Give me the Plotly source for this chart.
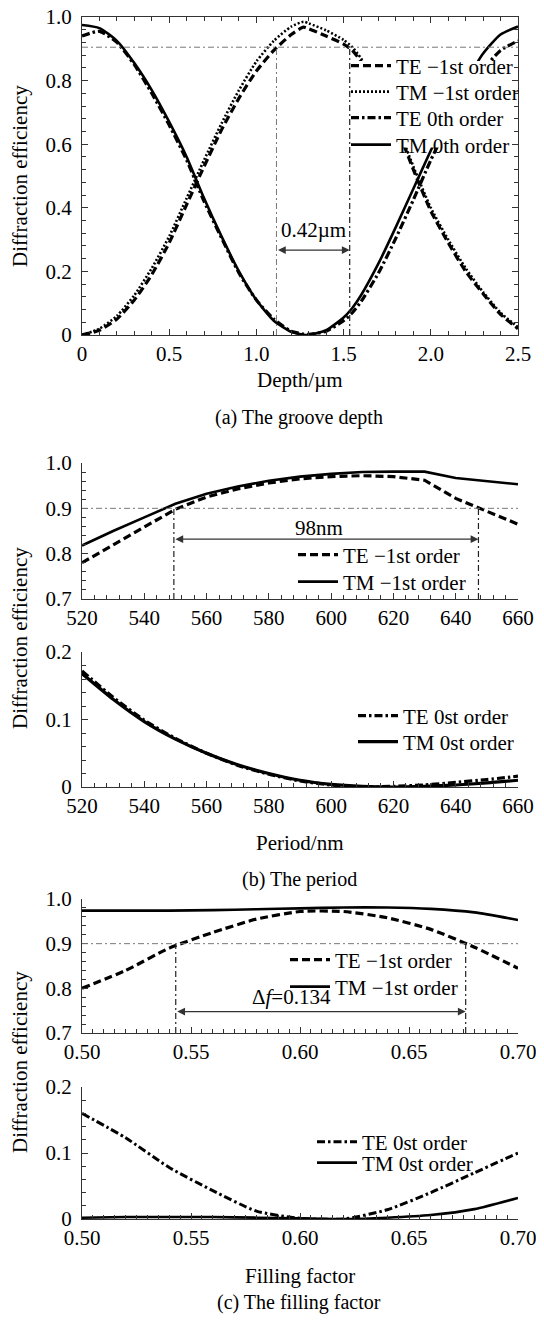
import plotly.graph_objects as go

# page is rendered with an 8px body margin on every side; the figure is sized so the page
# never needs to scroll and its content lands on the reference's pixel positions
OFF = 8
W, H = 544 - OFF, 1329 - 2 * OFF
FONT = "Liberation Serif, Times New Roman, Times, serif"
FS = 21

# ---------------- data: (a) groove depth ----------------
depth = [0, 0.1, 0.2, 0.3, 0.4, 0.5, 0.6, 0.7, 0.8, 0.9, 1.0, 1.1, 1.2, 1.27, 1.3,
         1.4, 1.5, 1.55, 1.6, 1.7, 1.8, 1.9, 2.0, 2.1, 2.2, 2.3, 2.4, 2.5]
te_m1_a = [0.0, 0.015, 0.05, 0.11, 0.19, 0.29, 0.41, 0.53, 0.645, 0.745, 0.83, 0.895, 0.945, 0.968,
           0.963, 0.94, 0.915, 0.895, 0.86, 0.77, 0.66, 0.52, 0.39, 0.29, 0.20, 0.13, 0.065, 0.02]
tm_m1_a = [0.0, 0.02, 0.06, 0.125, 0.21, 0.31, 0.43, 0.55, 0.665, 0.77, 0.86, 0.925, 0.97, 0.985,
           0.98, 0.958, 0.928, 0.905, 0.87, 0.78, 0.67, 0.53, 0.40, 0.30, 0.21, 0.135, 0.07, 0.025]
te_0_a = [0.94, 0.955, 0.92, 0.85, 0.76, 0.66, 0.55, 0.42, 0.305, 0.195, 0.11, 0.05, 0.012, 0.003,
          0.002, 0.012, 0.045, 0.07, 0.105, 0.195, 0.305, 0.425, 0.55, 0.66, 0.755, 0.835, 0.895, 0.925]
tm_0_a = [0.975, 0.965, 0.925, 0.855, 0.77, 0.67, 0.56, 0.43, 0.31, 0.20, 0.11, 0.045, 0.01, 0.001,
          0.0, 0.015, 0.055, 0.085, 0.125, 0.225, 0.34, 0.46, 0.58, 0.695, 0.795, 0.885, 0.945, 0.97]

# ---------------- data: (b) period ----------------
period = [520, 530, 540, 550, 560, 570, 580, 590, 600, 610, 620, 630, 640, 650, 660]
te_m1_b = [0.78, 0.82, 0.86, 0.898, 0.925, 0.943, 0.956, 0.965, 0.97, 0.972, 0.97, 0.962, 0.922, 0.893, 0.865]
tm_m1_b = [0.818, 0.85, 0.88, 0.91, 0.932, 0.948, 0.961, 0.97, 0.976, 0.98, 0.981, 0.981, 0.967, 0.96, 0.953]
te_0_b = [0.172, 0.133, 0.099, 0.072, 0.05, 0.032, 0.019, 0.009, 0.003, 0.0, 0.001, 0.003, 0.007, 0.011, 0.016]
tm_0_b = [0.168, 0.13, 0.097, 0.071, 0.05, 0.033, 0.02, 0.01, 0.004, 0.001, 0.0, 0.001, 0.003, 0.006, 0.01]

# ---------------- data: (c) filling factor ----------------
fill = [0.50, 0.52, 0.54, 0.56, 0.58, 0.60, 0.62, 0.64, 0.66, 0.68, 0.70]
te_m1_c = [0.80, 0.84, 0.89, 0.925, 0.955, 0.972, 0.972, 0.958, 0.932, 0.892, 0.845]
tm_m1_c = [0.974, 0.974, 0.974, 0.975, 0.977, 0.979, 0.981, 0.981, 0.978, 0.97, 0.953]
te_0_c = [0.16, 0.123, 0.078, 0.043, 0.012, 0.001, 0.0, 0.014, 0.04, 0.07, 0.10]
tm_0_c = [0.002, 0.003, 0.003, 0.003, 0.002, 0.001, 0.0, 0.002, 0.006, 0.015, 0.032]

# ---------------- guides / labels ----------------
a_level, a_left, a_right, a_arrow_y = 0.905, 1.115, 1.535, 0.267
a_label, a_label_pos = "0.42µm", (1.33, 0.33)
b_level, b_left, b_right, b_arrow_y = 0.9, 549.5, 647.3, 0.832
b_label, b_label_pos = "98nm", (596, 0.857)
c_level, c_left, c_right, c_arrow_y = 0.9, 0.543, 0.676, 0.748
c_label, c_label_pos = "Δ<i>f</i>=0.134", (0.596, 0.781)

a_xticks = [0, 0.5, 1.0, 1.5, 2.0, 2.5]
a_xtext = ["0", "0.5", "1.0", "1.5", "2.0", "2.5"]
a_yticks = [0, 0.2, 0.4, 0.6, 0.8, 1.0]
a_ytext = ["0", "0.2", "0.4", "0.6", "0.8", "1.0"]
p_ticks = [520, 540, 560, 580, 600, 620, 640, 660]
f_ticks = [0.50, 0.55, 0.60, 0.65, 0.70]
f_text = ["0.50", "0.55", "0.60", "0.65", "0.70"]
top_yticks = [0.7, 0.8, 0.9, 1.0]
top_ytext = ["0.7", "0.8", "0.9", "1.0"]
bot_yticks = [0, 0.1, 0.2]
bot_ytext = ["0", "0.1", "0.2"]


def px(xp):
    return (xp - OFF) / W


def py(yp):
    return 1 - (yp - OFF) / H


X0, X1 = 82, 518
fig = go.Figure()

DASH = "8px,4px"
DOT = "2px,2px"
DASHDOT = "8px,3px,2.5px,3px"


def add(x, y, name, dash, width, xa, ya, leg, shape="spline"):
    fig.add_trace(go.Scatter(
        x=x, y=y, name=name, mode="lines", xaxis=xa, yaxis=ya, legend=leg, showlegend=True,
        line=dict(color="black", width=width, dash=dash, shape=shape,
                  smoothing=0.6 if shape == "spline" else None),
        hoverinfo="skip"))


add(depth, te_m1_a, "TE −1st order", DASH, 3.2, "x", "y", "legend")
add(depth, tm_m1_a, "TM −1st order", DOT, 2.6, "x", "y", "legend2")
add(depth, te_0_a, "TE 0th order", DASHDOT, 3.2, "x", "y", "legend3")
add(depth, tm_0_a, "TM 0th order", "solid", 2.6, "x", "y", "legend4")

add(period, te_m1_b, "TE −1st order", DASH, 3.2, "x2", "y2", "legend5", "linear")
add(period, tm_m1_b, "TM −1st order", "solid", 2.6, "x2", "y2", "legend6", "linear")
add(period, te_0_b, "TE 0st order", DASHDOT, 3.2, "x3", "y3", "legend7")
add(period, tm_0_b, "TM 0st order", "solid", 3.2, "x3", "y3", "legend8")

add(fill, te_m1_c, "TE −1st order", DASH, 3.2, "x4", "y4", "legend9")
add(fill, tm_m1_c, "TM −1st order", "solid", 2.6, "x4", "y4", "legend10")
add(fill, te_0_c, "TE 0st order", DASHDOT, 3.0, "x5", "y5", "legend11")
add(fill, tm_0_c, "TM 0st order", "solid", 2.6, "x5", "y5", "legend12")

tickfont = dict(family=FONT, size=FS, color="black")
AXC = "#333"


def xax(rng, tv, tt, mdt, anchor, mirror=False):
    return dict(domain=[px(X0), px(X1)], range=rng, tickmode="array", tickvals=tv, ticktext=tt,
                ticks="inside", ticklen=6, tickwidth=1.2, tickcolor=AXC,
                minor=dict(tickmode="linear", tick0=rng[0], dtick=mdt, ticks="inside", ticklen=4,
                           tickwidth=1, tickcolor=AXC, showgrid=False),
                showline=True, linecolor=AXC, linewidth=1.3, mirror="allticks" if mirror else False,
                showgrid=False, zeroline=False, tickfont=tickfont, anchor=anchor, fixedrange=True,
                automargin=False, ticklabeloverflow="allow")


def yax(rng, tv, tt, mdt, top, bot, anchor, mirror=False):
    return dict(domain=[py(bot), py(top)], range=rng, tickmode="array", tickvals=tv, ticktext=tt,
                ticks="inside", ticklen=6, tickwidth=1.2, tickcolor=AXC,
                minor=dict(tickmode="linear", tick0=rng[0], dtick=mdt, ticks="inside", ticklen=4,
                           tickwidth=1, tickcolor=AXC, showgrid=False),
                showline=True, linecolor=AXC, linewidth=1.3, mirror="allticks" if mirror else False,
                showgrid=False, zeroline=False, tickfont=tickfont, anchor=anchor, fixedrange=True,
                automargin=False, ticklabelstandoff=5, ticklabeloverflow="allow")


layout = dict(
    width=W, height=H, margin=dict(l=0, r=0, t=0, b=0, pad=0, autoexpand=False),
    paper_bgcolor="white", plot_bgcolor="white", showlegend=True,
    font=dict(family=FONT, size=FS, color="black"),
    xaxis=xax([0, 2.5], a_xticks, a_xtext, 0.1, "y", True),
    yaxis=yax([0, 1.0], a_yticks, a_ytext, 0.04, 17, 335, "x", True),
    xaxis2=xax([520, 660], p_ticks, [str(v) for v in p_ticks], 4, "y2"),
    yaxis2=yax([0.7, 1.0], top_yticks, top_ytext, 0.02, 463, 599, "x2"),
    xaxis3=xax([520, 660], p_ticks, [str(v) for v in p_ticks], 4, "y3"),
    yaxis3=yax([0, 0.2], bot_yticks, bot_ytext, 0.02, 652, 787, "x3"),
    xaxis4=xax([0.5, 0.7], f_ticks, f_text, 0.005, "y4"),
    yaxis4=yax([0.7, 1.0], top_yticks, top_ytext, 0.02, 899, 1033, "x4"),
    xaxis5=xax([0.5, 0.7], f_ticks, f_text, 0.005, "y5"),
    yaxis5=yax([0, 0.2], bot_yticks, bot_ytext, 0.02, 1087, 1219, "x5"),
)

# legends: one per entry, placed by pixel position (left edge, row centre)
leg_pos = {
    "legend": (346, 66), "legend2": (346, 92), "legend3": (346, 118), "legend4": (346, 145),
    "legend5": (293, 555), "legend6": (293, 582),
    "legend7": (353, 716), "legend8": (353, 742),
    "legend9": (285, 960), "legend10": (285, 987),
    "legend11": (312, 1142), "legend12": (312, 1163),
}
for k, (lx, ly) in leg_pos.items():
    layout[k] = dict(x=px(lx), y=py(ly), xanchor="left", yanchor="middle", itemwidth=40,
                     bgcolor="rgba(0,0,0,0)", borderwidth=0, visible=True,
                     font=dict(family=FONT, size=FS, color="black"))

fig.update_layout(**layout)

GUIDE = "#777"
GDASH = "6px,3px,2px,3px"
shapes = [
    # (a)
    dict(type="line", xref="x", yref="y", x0=0, x1=2.5, y0=a_level, y1=a_level,
         line=dict(color=GUIDE, width=1, dash=GDASH)),
    dict(type="line", xref="x", yref="y", x0=a_left, x1=a_left, y0=0, y1=a_level,
         line=dict(color=GUIDE, width=1, dash=GDASH)),
    dict(type="line", xref="x", yref="y", x0=a_right, x1=a_right, y0=0, y1=a_level,
         line=dict(color="#222", width=1.2, dash=GDASH)),
    # white legend box of (a) masking the curves
    dict(type="rect", xref="x", yref="y", x0=1.55, x1=2.455, y0=0.59, y1=0.862,
         fillcolor="white", line=dict(width=0), layer="above"),
    # (b)
    dict(type="line", xref="x2", yref="y2", x0=520, x1=660, y0=b_level, y1=b_level,
         line=dict(color=GUIDE, width=1, dash=GDASH)),
    dict(type="line", xref="x2", yref="y2", x0=b_left, x1=b_left, y0=0.7, y1=b_level,
         line=dict(color="#222", width=1.2, dash=GDASH)),
    dict(type="line", xref="x2", yref="y2", x0=b_right, x1=b_right, y0=0.7, y1=b_level,
         line=dict(color="#222", width=1.2, dash=GDASH)),
    # (c)
    dict(type="line", xref="x4", yref="y4", x0=0.5, x1=0.7, y0=c_level, y1=c_level,
         line=dict(color=GUIDE, width=1, dash=GDASH)),
    dict(type="line", xref="x4", yref="y4", x0=c_left, x1=c_left, y0=0.7, y1=c_level,
         line=dict(color="#222", width=1.2, dash=GDASH)),
    dict(type="line", xref="x4", yref="y4", x0=c_right, x1=c_right, y0=0.7, y1=c_level,
         line=dict(color="#222", width=1.2, dash=GDASH)),
]
fig.update_layout(shapes=shapes)

ann = []


def arrow(xr, yr, x0, x1, y):
    ann.append(dict(xref=xr, yref=yr, axref=xr, ayref=yr, x=x1, y=y, ax=x0, ay=y, text="",
                    showarrow=True, arrowhead=2, startarrowhead=2, arrowside="end+start",
                    arrowsize=1.3, startarrowsize=1.3, arrowwidth=1.2, arrowcolor="#333",
                    standoff=0, startstandoff=0))


arrow("x", "y", a_left, a_right, a_arrow_y)
arrow("x2", "y2", b_left, b_right, b_arrow_y)
arrow("x4", "y4", c_left, c_right, c_arrow_y)

for xr, yr, lab, pos in [("x", "y", a_label, a_label_pos), ("x2", "y2", b_label, b_label_pos),
                         ("x4", "y4", c_label, c_label_pos)]:
    ann.append(dict(xref=xr, yref=yr, x=pos[0], y=pos[1], text=lab, showarrow=False,
                    font=dict(family=FONT, size=FS, color="black"), xanchor="center", yanchor="middle"))


def ptext(text, xp, yp, size=FS, angle=0):
    ann.append(dict(xref="paper", yref="paper", x=px(xp), y=py(yp), text=text, showarrow=False,
                    textangle=angle, font=dict(family=FONT, size=size, color="black"),
                    xanchor="center", yanchor="middle"))


ptext("Diffraction efficiency", 20, 176, angle=-90)
ptext("Diffraction efficiency", 20, 638, angle=-90)
ptext("Diffraction efficiency", 20, 1062, angle=-90)
ptext("Depth/µm", 300, 380)
ptext("(a) The groove depth", 299, 417, size=20)
ptext("Period/nm", 300, 843)
ptext("(b) The period", 299, 879, size=20)
ptext("Filling factor", 300, 1276)
ptext("(c) The filling factor", 299, 1302, size=20)

fig.update_layout(annotations=ann)
fig.write_html("out.html")
